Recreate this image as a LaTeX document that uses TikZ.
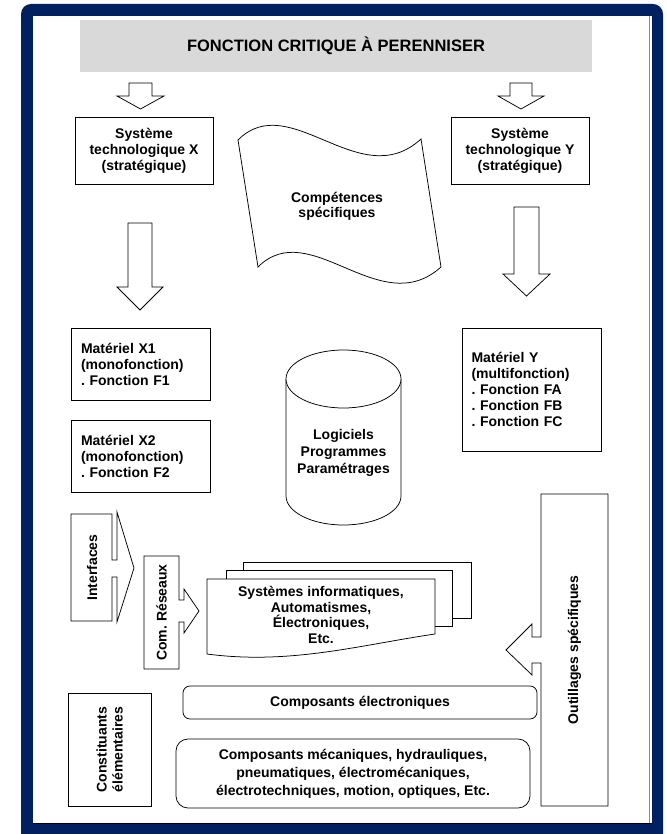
\documentclass[tikz,border=0pt]{standalone}
\usepackage{fontspec}
\setmainfont{Liberation Sans}
\usepackage{xcolor}
\frenchspacing
\definecolor{framenavy}{RGB}{0,32,96}
\definecolor{bargray}{RGB}{217,217,217}
\newcommand{\txtfont}{\bfseries\fontsize{14}{16}\selectfont}
\tikzset{
  shp/.style={draw=black, line width=0.75pt, fill=white},
  box/.style={shp, inner sep=0pt, align=center, font=\txtfont},
  lbox/.style={box, inner xsep=10pt, align=left, text width=119pt},
  rbox/.style={box, rounded corners=#1},
  txt/.style={inner sep=0pt, align=center, font=\txtfont}
}
\begin{document}
\begin{tikzpicture}[x=1pt,y=-1pt,line join=miter]
    \useasboundingbox (0,0) rectangle (666,834);
    % cadre
    \fill [framenavy, rounded corners=10pt] (21,4) rectangle (663,860);
    \fill [white] (33,16) rectangle (652,824);
    \draw [black!45, line width=0.6pt] (649,16) -- (649,823);
    \draw [black, line width=0.6pt] (33,823.5) -- (652,823.5);
    % titre
    \node [fill=bargray, minimum width=512pt, minimum height=52pt, inner sep=0pt,
           font=\bfseries\fontsize{16.5}{19}\selectfont] (titre) at (336,46) {FONCTION CRITIQUE À PERENNISER};
    % fleches du haut
    \draw [shp] (129,83)--(152,83)--(152,96)--(164,96)--(140.5,109)--(117,96)--(129,96)--cycle;
    \draw [shp] (510,83)--(532,83)--(532,96)--(544,96)--(521,109)--(498,96)--(510,96)--cycle;
    \node [box, minimum width=138pt, minimum height=67pt] (sysx) at (144,150.5) {Système\\technologique X\\(stratégique)};
    \node [box, minimum width=138pt, minimum height=67pt] (sysy) at (520,150.5) {Système\\technologique Y\\(stratégique)};
    % competences
    \draw [shp] (238,140) .. controls (290,88) and (360,195) .. (421,139) -- (441,267)
                .. controls (380,322) and (310,215) .. (258,267) -- cycle;
    \node [txt, font=\bfseries\fontsize{14}{15}\selectfont] (compet) at (337,206) {Compétences\\spécifiques};
    \draw [shp] (128,223)--(152,223)--(152,287)--(163,287)--(140,310)--(117,287)--(128,287)--cycle;
    \draw [shp] (514,207)--(539,207)--(539,274)--(550,274)--(526.5,296)--(503,274)--(514,274)--cycle;
    % materiels
    \node [lbox, minimum height=72pt] (matx1) at (140.5,364) {Matériel X1\\(monofonction)\\. Fonction F1};
    \node [lbox, minimum height=72pt] (matx2) at (140.5,456) {Matériel X2\\(monofonction)\\. Fonction F2};
    \node [lbox, inner xsep=9.5pt, text width=120pt, minimum height=123pt] (maty) at (531.5,389.5)
          {Matériel Y\\(multifonction)\\. Fonction FA\\. Fonction FB\\. Fonction FC};
    % logiciels
    \draw [shp] (286,379) -- (286,496) arc [start angle=180, end angle=360, x radius=57.5pt, y radius=29pt] -- (401,379);
    \draw [shp] (343.5,379) ellipse [x radius=57.5pt, y radius=29pt];
    \node [txt, font=\bfseries\fontsize{14}{17}\selectfont] (logi) at (343.5,453) {Logiciels\\Programmes\\Paramétrages};
    % interfaces, com. reseaux
    \draw [shp] (71,514)--(112,514)--(112,560)--(117,560)--(117,512)--(134,568)--(117,622)--(117,577)
                --(112,577)--(112,621)--(71,621)--cycle;
    \node [txt, rotate=90] (interf) at (92,567.5) {Interfaces};
    \draw [shp] (144,556)--(179,556)--(179,600)--(184,600)--(184,589)--(199,611)--(184,633)--(184,622)
                --(179,622)--(179,669)--(144,669)--cycle;
    \node [txt, rotate=90] (comres) at (161.5,612.5) {Com. Réseaux};
    % systemes informatiques
    \draw [shp] (243,570) -- (243,562) -- (471,562) -- (471,618) -- (452,618);
    \draw [shp] (226,579) -- (226,570) -- (452,570) -- (452,626) -- (435,626);
    \draw [shp] (207,579) -- (435,579) -- (435,634) .. controls (360,645) and (290,665) .. (207,654) -- cycle;
    \node [txt, font=\bfseries\fontsize{14}{15.5}\selectfont] (sysinfo) at (321,615)
          {Systèmes informatiques,\\Automatismes,\\Électroniques,\\Etc.};
    % outillages
    \draw [shp] (541,494)--(608,494)--(608,806)--(541,806)--(541,663)--(532,663)--(532,675)--(506,650)
                --(532,624)--(532,637)--(541,637)--cycle;
    \node [txt, rotate=90] (outil) at (574.5,650) {Outillages spécifiques};
    % constituants
    \node [box, rotate=90, minimum width=113pt, minimum height=83pt] (constit) at (109.5,749.5) {Constituants\\élémentaires};
    \node [rbox=7pt, minimum width=354pt, minimum height=33pt] (compelec) at (360,702.5) {Composants électroniques};
    \node [rbox=12pt, minimum width=354pt, minimum height=69pt, font=\bfseries\fontsize{14}{18}\selectfont] (compmeca) at (353,773.5)
          {Composants mécaniques, hydrauliques,\\pneumatiques, électromécaniques,\\électrotechniques, motion, optiques, Etc.};
\end{tikzpicture}
\end{document}
